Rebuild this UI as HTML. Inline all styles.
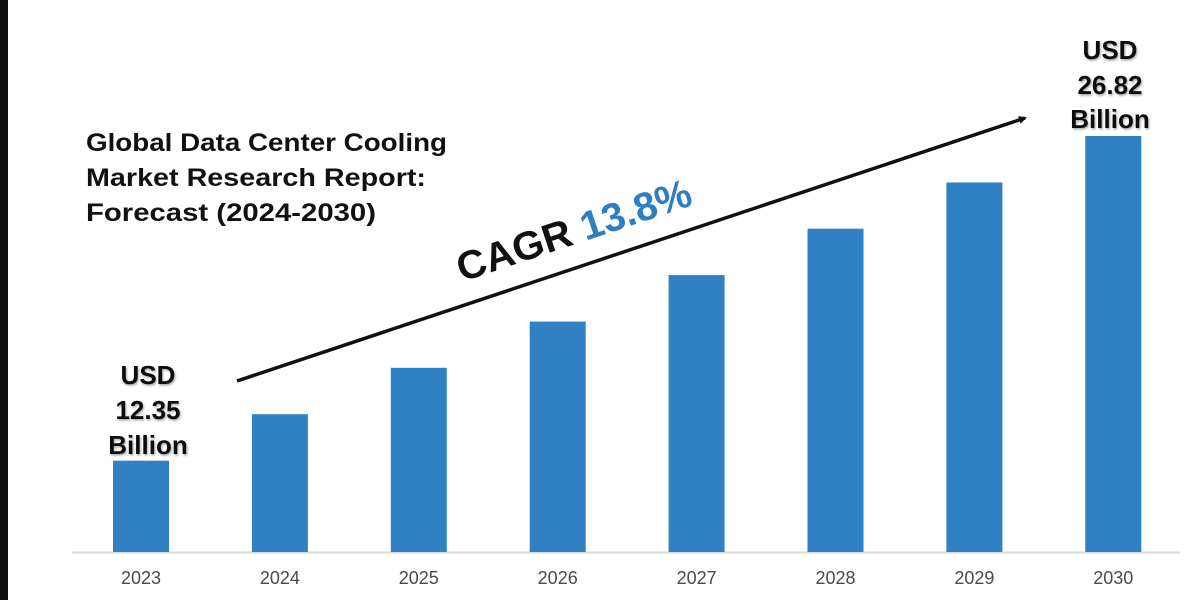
<!DOCTYPE html>
<html><head><meta charset="utf-8"><style>
html,body{margin:0;padding:0;background:#fff;}
svg{display:block;font-family:"Liberation Sans",sans-serif;}
</style></head><body>
<svg id="chart" width="1200" height="600" viewBox="0 0 1200 600">
<rect x="0" y="0" width="8" height="600" fill="#111"/>
<line x1="72" y1="552.5" x2="1180" y2="552.5" stroke="#d9d9d9" stroke-width="2"/>
<g id="bars"></g>
<g id="xlabels"></g>
<g font-weight="bold" font-size="25" fill="#111">
<text x="86" y="151" textLength="361" lengthAdjust="spacingAndGlyphs">Global Data Center Cooling</text>
<text x="86" y="186" textLength="340" lengthAdjust="spacingAndGlyphs">Market Research Report:</text>
<text x="86" y="221" textLength="290" lengthAdjust="spacingAndGlyphs">Forecast (2024-2030)</text>
</g>
<defs><marker id="ah" markerWidth="8" markerHeight="8" refX="6" refY="4" orient="auto" markerUnits="userSpaceOnUse"><path d="M0,0 L8,4 L0,8 z" fill="#111"/></marker>
<filter id="sh"><feDropShadow dx="1" dy="1.5" stdDeviation="1" flood-color="#000" flood-opacity="0.35"/></filter></defs>
<line x1="237" y1="381" x2="1025" y2="118" stroke="#111" stroke-width="3.5" marker-end="url(#ah)"/>
<text transform="translate(462,282) rotate(-18.45)" font-size="40" font-weight="bold" fill="#111" textLength="245" lengthAdjust="spacingAndGlyphs">CAGR <tspan fill="#2e7fc1">13.8%</tspan></text>
<g font-size="26" font-weight="bold" fill="#111" text-anchor="middle" filter="url(#sh)">
<text x="148" y="384">USD</text>
<text x="148" y="419">12.35</text>
<text x="148" y="454">Billion</text>
</g>
<g font-size="26" font-weight="bold" fill="#111" text-anchor="middle" filter="url(#sh)">
<text x="1110" y="59">USD</text>
<text x="1110" y="94">26.82</text>
<text x="1110" y="128">Billion</text>
</g>
</svg>
<script>
const categories=["2023","2024","2025","2026","2027","2028","2029","2030"];
const values=[12.35,14.42,16.49,18.55,20.62,22.69,24.75,26.82];
const yMin=8.28, yMax=26.82;
const baseY=552, topY=136, x0=141, step=138.9, barW=56;
function xScale(i){return x0+i*step;}
function yScale(v){return baseY-(v-yMin)/(yMax-yMin)*(baseY-topY);}
const NS="http://www.w3.org/2000/svg";
const bars=document.getElementById('bars'), xl=document.getElementById('xlabels');
categories.forEach((c,i)=>{
  const r=document.createElementNS(NS,'rect');
  const y=yScale(values[i]);
  r.setAttribute('x',xScale(i)-barW/2);r.setAttribute('y',y);
  r.setAttribute('width',barW);r.setAttribute('height',baseY-y);
  r.setAttribute('fill','#2f81c3');
  
  
  bars.appendChild(r);
  const t=document.createElementNS(NS,'text');
  t.setAttribute('x',xScale(i));t.setAttribute('y',584);
  t.setAttribute('text-anchor','middle');t.setAttribute('font-size','18');t.setAttribute('fill','#4a4a4a');
  t.textContent=c;
  
  
  xl.appendChild(t);
});
</script>
</body></html>
